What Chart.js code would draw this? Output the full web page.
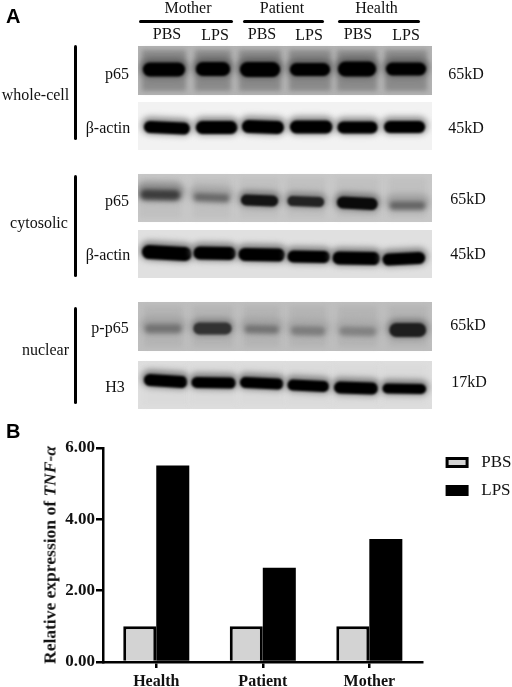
<!DOCTYPE html>
<html>
<head>
<meta charset="utf-8">
<script src="https://cdn.jsdelivr.net/npm/chart.js@4"></script>
<style>
  html, body { margin: 0; padding: 0; background: #fff; }
  #page { position: relative; width: 512px; height: 687px; overflow: hidden; font-family: "Liberation Serif", serif; color: #111; }
  canvas { position: absolute; left: 0; }
  #blotCanvas { top: 0; }
  #barCanvas { top: 435px; }
  .t { position: absolute; font-size: 16px; line-height: 18px; white-space: nowrap; transform: translate(-50%, -50%); }
  .rule { position: absolute; background: #000; border-radius: 2px; }
  .letter { position: absolute; font: bold 20px "Liberation Sans", sans-serif; color: #000; line-height: 20px; }
  #yTitle { position: absolute; left: 50px; top: 555px; font: bold 17.5px "Liberation Serif", serif; color: #111; white-space: nowrap; transform: translate(-50%, -50%) rotate(-90deg); }
</style>
</head>
<body>
<div id="page">
  <canvas id="blotCanvas" width="512" height="425"></canvas>
  <canvas id="barCanvas" width="512" height="252"></canvas>
  <div class="letter" style="left:6px;top:6px">A</div>
  <div class="letter" style="left:6px;top:421px">B</div>
  <div id="yTitle">Relative expression of <i>TNF-α</i></div>
</div>
<script>
// Panel B values
const categories = ['Health', 'Patient', 'Mother'];
const pbsValues = [1, 1, 1];
const lpsValues = [5.51, 2.64, 3.45];
const yTicks = [0, 2, 4, 6];

// Panel A blot strips: vertical extent and background grey
const stripTop = [46, 102, 174, 230, 302, 361];
const stripBottom = [95, 150, 222, 278, 351, 409];
const stripGrey = [180, 242, 200, 224, 190, 222];
const laneTint = [42, 0, 8, 0, 10, 4];

// Bands per strip, six lanes each. Left/right in lane units
const bandLeft = [
  [0.10, 1.18, 2.08, 3.10, 4.08, 5.06],
  [0.12, 1.18, 2.12, 3.10, 4.07, 5.02],
  [0.05, 1.14, 2.10, 3.05, 4.06, 5.14],
  [0.08, 1.13, 2.05, 3.05, 3.97, 4.99],
  [0.14, 1.13, 2.18, 3.12, 4.11, 5.13],
  [0.12, 1.09, 2.08, 3.05, 4.00, 4.99]
];
const bandRight = [
  [0.96, 1.88, 2.90, 3.92, 4.86, 5.88],
  [1.06, 2.03, 2.98, 3.97, 4.89, 5.86],
  [0.86, 1.86, 2.86, 3.80, 4.89, 5.86],
  [1.10, 2.00, 3.00, 3.92, 4.94, 5.86],
  [0.89, 1.91, 2.87, 3.82, 4.86, 5.88],
  [1.01, 2.00, 2.97, 3.90, 4.90, 5.88]
];
// band height on the page scale, at the lane's left and right end
const bandYLeft = [
  [69.5, 69, 69.5, 69.5, 69, 69],
  [127, 127.5, 126.5, 127, 127.5, 127],
  [194.5, 197, 200, 201, 202.5, 205.5],
  [252, 253, 254.5, 256.5, 258, 259.5],
  [328.5, 328.5, 329, 330.5, 331, 330],
  [380, 382.5, 382.5, 385, 387.5, 388.5]
];
const bandYRight = [
  [69.5, 69, 69.5, 69.5, 69, 69],
  [128.5, 127.5, 127.5, 127, 127.5, 127],
  [195, 198, 201, 202, 204, 205.5],
  [254, 253.5, 255, 257, 258.5, 258],
  [328.5, 328.5, 329.5, 331, 331.5, 330],
  [382, 383, 384, 386.5, 388.5, 389]
];
const bandThick = [
  [14, 14, 15, 13, 15, 13],
  [12, 13, 13, 13, 12, 12],
  [10, 8, 11, 10, 12, 8],
  [14, 13, 13, 12, 13, 12],
  [9, 12, 8, 9, 9, 14],
  [12, 11, 11, 11, 12, 10]
];
// band darkness, grey level of the core
const bandGrey = [
  [0, 0, 0, 0, 0, 0],
  [0, 0, 0, 0, 0, 0],
  [60, 105, 20, 35, 10, 100],
  [0, 0, 0, 0, 0, 0],
  [115, 50, 115, 125, 130, 30],
  [0, 0, 0, 0, 0, 0]
];

const grey = v => `rgb(${v},${v},${v})`;
const pxPerLane = 49;

function lineSet(x0, x1, y0, y1, width, colour, blur, cap) {
  return {
    type: 'line',
    data: [{ x: x0, y: y0 }, { x: x1, y: y1 }],
    borderColor: colour,
    borderWidth: width,
    borderCapStyle: cap,
    pointRadius: 0,
    blur: blur
  };
}

const blotSets = [];
stripTop.forEach((top, s) => {
  const mid = (top + stripBottom[s]) / 2;
  blotSets.push(lineSet(0, 6, mid, mid, stripBottom[s] - top, grey(stripGrey[s]), 0, 'butt'));
  bandLeft[s].forEach((left, l) => {
    const right = bandRight[s][l];
    if (laneTint[s]) {
      blotSets.push(lineSet(left - 0.02, right + 0.02, mid, mid, stripBottom[s] - top - 8, grey(stripGrey[s] - laneTint[s]), 2.5, 'butt'));
    }
    const th = bandThick[s][l];
    const inset = th / 2 / pxPerLane;
    const yL = bandYLeft[s][l], yR = bandYRight[s][l], g = bandGrey[s][l];
    // soft halo, then the core of the band
    const halo = Math.round((g + stripGrey[s] - laneTint[s] * 0.5) / 2 + 12);
    const faint = g > 50;
    blotSets.push(lineSet(left + inset, right - inset, yL - (faint ? 3 : 1.5), yR - (faint ? 3 : 1.5), th + (faint ? 9 : 5), grey(halo), 3, 'round'));
    blotSets.push(lineSet(left + inset, right - inset, yL, yR, th, grey(g), faint ? 2 : 1.2, 'round'));
  });
});
// chart.js paints the first dataset last, so put the strips at the end
blotSets.reverse();

const blurPlugin = {
  id: 'bandBlur',
  beforeDatasetDraw(chart, args) {
    const blur = chart.data.datasets[args.index].blur;
    chart.ctx.save();
    if (blur) chart.ctx.filter = `blur(${blur}px)`;
  },
  afterDatasetDraw(chart) {
    chart.ctx.restore();
  }
};

new Chart(document.getElementById('blotCanvas'), {
  type: 'line',
  data: { datasets: blotSets },
  plugins: [blurPlugin],
  options: {
    responsive: false,
    animation: false,
    layout: { padding: { left: 138, right: 80, top: 0, bottom: 0 } },
    plugins: { legend: { display: false }, tooltip: { enabled: false } },
    scales: {
      x: { type: 'linear', min: 0, max: 6, display: false },
      y: { type: 'linear', min: 0, max: 425, reverse: true, display: false }
    }
  }
});

// legend sits a little in from the edge of its box
const legendNudge = {
  id: 'legendNudge',
  afterLayout(chart) {
    chart.legend.left += 13.5;
    chart.legend.right = chart.width;
    chart.legend.top -= 5;
  }
};

new Chart(document.getElementById('barCanvas'), {
  type: 'bar',
  data: {
    labels: categories,
    datasets: [
      { label: ' \u200aPBS', data: pbsValues, backgroundColor: '#d3d3d3', borderColor: '#000', borderWidth: 3 },
      { label: ' \u200aLPS', data: lpsValues, backgroundColor: '#000', borderWidth: 0 }
    ]
  },
  plugins: [legendNudge],
  options: {
    responsive: false,
    animation: false,
    layout: { padding: { top: 13, left: 0, right: 4, bottom: 0 } },
    datasets: { bar: { categoryPercentage: 0.62, barPercentage: 1 } },
    plugins: {
      tooltip: { enabled: false },
      legend: {
        position: 'right',
        align: 'start',
        labels: {
          boxWidth: 20,
          boxHeight: 8,
          padding: 11,
          color: '#111',
          font: { family: 'Liberation Serif', size: 17 },
          generateLabels(chart) {
            const items = Chart.defaults.plugins.legend.labels.generateLabels(chart);
            items.forEach(item => { item.lineWidth = 3; item.strokeStyle = '#000'; });
            return items;
          }
        }
      }
    },
    scales: {
      x: {
        afterFit: s => { s.height = 25; },
        border: { color: '#000', width: 2.5 },
        grid: { offset: false, drawOnChartArea: false, color: '#000', lineWidth: 2.5, tickLength: 6 },
        ticks: { color: '#111', padding: 4, font: { family: 'Liberation Serif', size: 16, weight: 'bold' } }
      },
      y: {
        min: 0,
        max: 6,
        afterBuildTicks: s => { s.ticks = yTicks.map(v => ({ value: v })); },
        afterFit: s => { s.width = 103; },
        border: { color: '#000', width: 2.5 },
        grid: { drawOnChartArea: false, color: '#000', lineWidth: 2.5, tickLength: 7 },
        ticks: { color: '#111', padding: 1, font: { family: 'Liberation Serif', size: 17, weight: 'bold' }, callback: v => v.toFixed(2) }
      }
    }
  }
});

// Panel A text
const blotLabels = [
  ['Mother', 188, 8], ['Patient', 282, 8], ['Health', 376.5, 8],
  ['PBS', 167, 34], ['LPS', 215, 35], ['PBS', 262, 34], ['LPS', 309, 35], ['PBS', 358, 34], ['LPS', 406, 35],
  ['whole-cell', 35.5, 95], ['cytosolic', 39, 223], ['nuclear', 45.5, 350],
  ['p65', 117, 74], ['β-actin', 108, 128], ['p65', 117, 201], ['β-actin', 108, 255], ['p-p65', 110, 328], ['H3', 115, 387],
  ['65kD', 466, 74], ['45kD', 466, 128], ['65kD', 468, 199], ['45kD', 468, 254], ['65kD', 468, 325], ['17kD', 469, 382]
];
const blotRules = [
  [139, 20, 94, 3], [243, 20, 81, 3], [338, 20, 82, 3],
  [74, 45, 3, 95], [74, 175, 3, 102], [74, 307, 3, 97]
];
const page = document.getElementById('page');
blotLabels.forEach(([text, x, y]) => {
  const el = document.createElement('div');
  el.className = 't';
  el.textContent = text;
  el.style.left = x + 'px';
  el.style.top = y + 'px';
  page.appendChild(el);
});
blotRules.forEach(([x, y, w, h]) => {
  const el = document.createElement('div');
  el.className = 'rule';
  el.style.cssText = `left:${x}px;top:${y}px;width:${w}px;height:${h}px`;
  page.appendChild(el);
});
</script>
</body>
</html>
